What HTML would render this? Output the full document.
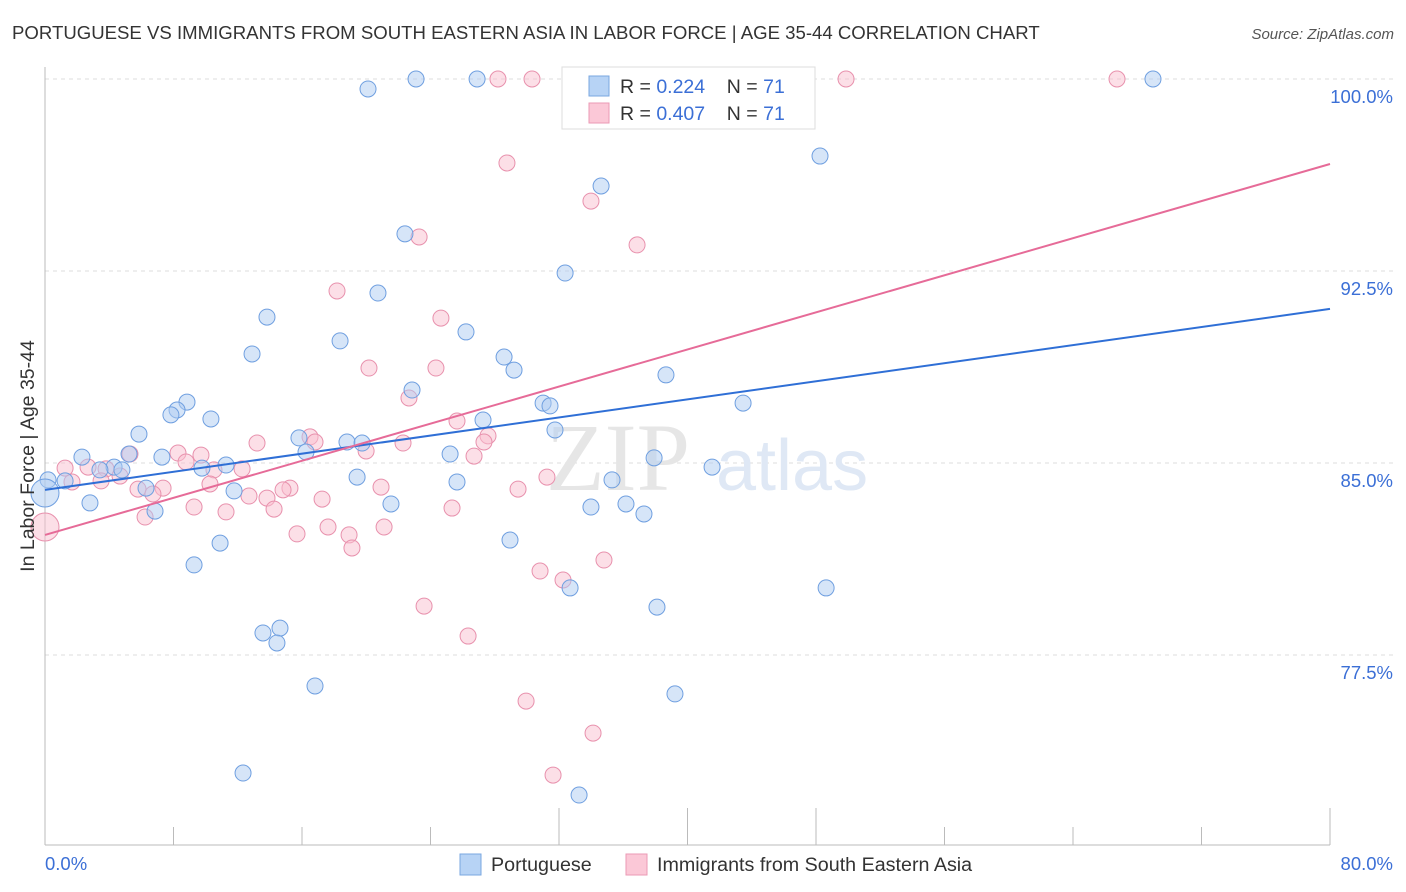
<!DOCTYPE html>
<html><head><meta charset="utf-8"><style>
body{margin:0;background:#fff;font-family:"Liberation Sans",sans-serif}
svg{display:block}
</style></head><body>
<svg id="chart" width="1406" height="892" viewBox="0 0 1406 892" xmlns="http://www.w3.org/2000/svg">
<text x="12" y="39" font-size="18.6" fill="#333">PORTUGUESE VS IMMIGRANTS FROM SOUTH EASTERN ASIA IN LABOR FORCE | AGE 35-44 CORRELATION CHART</text>
<text x="1394" y="39" font-size="15" fill="#555" text-anchor="end" font-style="italic">Source: ZipAtlas.com</text>
<g id="grid"></g>
<text x="690" y="490" font-size="96" fill="#e6e6e6" text-anchor="end" font-family="Liberation Serif">ZIP</text>
<text x="716" y="490" font-size="72" fill="#dfe8f5">atlas</text>
<g id="axes"></g>
<g id="pink"></g>
<g id="blue"></g>
<g id="lines"></g>
<text transform="translate(34,456) rotate(-90)" font-size="19.5" fill="#333" text-anchor="middle">In Labor Force | Age 35-44</text>
<g>
<rect x="562" y="67" width="253" height="62" fill="#fff" stroke="#ddd"/>
<rect x="589" y="76" width="20" height="20" fill="#b7d3f5" stroke="#7aa7e0"/>
<rect x="589" y="103" width="20" height="20" fill="#fbc8d7" stroke="#eb9ab4"/>
<text x="620" y="93" font-size="19.5" fill="#333" xml:space="preserve">R = <tspan fill="#3b6fd6">0.224</tspan>    N = <tspan fill="#3b6fd6">71</tspan></text>
<text x="620" y="120" font-size="19.5" fill="#333" xml:space="preserve">R = <tspan fill="#3b6fd6">0.407</tspan>    N = <tspan fill="#3b6fd6">71</tspan></text>
</g>
<g>
<rect x="460" y="854" width="21" height="21" fill="#b7d3f5" stroke="#7aa7e0"/>
<text x="491" y="871" font-size="19.7" fill="#333">Portuguese</text>
<rect x="626" y="854" width="21" height="21" fill="#fbc8d7" stroke="#eb9ab4"/>
<text x="657" y="871" font-size="19.7" fill="#333">Immigrants from South Eastern Asia</text>
</g>
</svg>
<script>
const yTicks=[100,92.5,85,77.5];
const yTickLabels=["100.0%","92.5%","85.0%","77.5%"];
const xTickLabels=["0.0%","80.0%"];
const blueX=[20.11,23.10,26.90,68.98,48.25,34.62,22.41,32.38,20.73,13.82,26.21,18.37,12.89,28.58,29.20,38.66,22.85,8.84,8.22,7.84,10.33,31.01,31.44,43.46,5.85,27.27,31.75,15.81,18.80,19.74,16.25,25.22,37.92,2.30,7.28,5.23,11.27,9.77,4.30,3.42,4.79,41.53,19.43,25.65,35.30,0.19,1.25,6.29,11.77,2.80,21.54,33.99,36.17,37.29,6.85,28.95,10.90,9.28,32.69,48.63,38.10,13.57,14.63,14.44,16.81,39.22,12.33,33.25,0];
const blueY=[99.61,100,100,100,96.99,95.82,93.95,92.42,91.64,90.70,90.12,89.77,89.26,89.14,88.63,88.44,87.85,87.38,87.07,86.88,86.72,87.34,87.23,87.34,86.13,86.68,86.29,85.98,85.82,85.78,85.43,85.35,85.20,85.23,85.23,85.35,84.92,84.80,84.84,84.73,84.73,84.84,84.45,84.26,84.34,84.34,84.30,84.02,83.91,83.44,83.40,83.28,83.40,83.01,83.12,81.99,81.87,81.02,80.12,80.12,79.37,78.36,78.55,77.97,76.29,75.98,72.89,72.03,83.83];
const pinkX=[28.20,30.32,43.02,49.87,66.74,28.76,33.99,23.29,36.86,18.18,24.65,20.17,24.34,22.66,25.65,27.58,16.50,16.81,27.33,19.99,22.29,13.20,8.28,9.71,5.29,8.78,26.71,1.25,2.68,3.80,10.52,12.27,4.67,3.49,1.68,10.27,31.25,20.92,5.79,7.35,6.72,15.25,14.82,17.25,12.70,13.82,14.26,9.28,11.27,25.34,29.45,6.23,17.62,21.11,15.69,18.93,19.11,30.82,32.25,34.80,23.60,26.34,29.95,34.12,31.63,0];
const pinkY=[100,100,100,100,100,96.72,95.23,93.83,93.52,91.72,90.66,88.71,88.71,87.54,86.64,86.06,86.02,85.82,85.82,85.47,85.78,85.78,85.39,85.31,85.35,85.04,85.27,84.80,84.84,84.77,84.73,84.77,84.49,84.30,84.26,84.18,84.45,84.06,83.98,84.02,83.79,84.02,83.95,83.59,83.71,83.63,83.20,83.28,83.09,83.24,83.98,82.89,82.50,82.50,82.23,82.19,81.68,80.78,80.43,81.21,79.41,78.24,75.70,74.45,72.81,82.50];
const blueTrend=[83.95,91.02];
const pinkTrend=[82.19,96.68];
const trendX=[0,80];
const NS="http://www.w3.org/2000/svg";
const X=v=>45+v/80*1285;
const Y=v=>79+(100-v)/7.5*192;
function mk(tag,attrs,parent){const e=document.createElementNS(NS,tag);for(const k in attrs)e.setAttribute(k,attrs[k]);parent.appendChild(e);return e;}
const grid=document.getElementById('grid'),axes=document.getElementById('axes');
yTicks.forEach((t,i)=>{
 const l=mk('line',{x1:45,x2:1393,y1:Y(t),y2:Y(t),stroke:'#ddd','stroke-dasharray':'4,4'},grid);
 
 
 const tx=mk('text',{x:1393,y:Y(t)+24,'font-size':18.5,fill:'#3b6fd6','text-anchor':'end'},axes);
 tx.textContent=yTickLabels[i];
 
 
});
mk('line',{x1:45,x2:45,y1:67,y2:845,stroke:'#bbb'},axes);
mk('line',{x1:45,x2:1330,y1:845,y2:845,stroke:'#bbb'},axes);
for(let i=1;i<=10;i++){
 const long=(i>=4&&i<=6)||i==10;
 const t=mk('line',{x1:X(i*8),x2:X(i*8),y1:long?808:827,y2:845,stroke:'#bbb'},axes);
 
 
}
const xl0=mk('text',{x:45,y:870,'font-size':18.5,fill:'#3b6fd6'},axes);xl0.textContent=xTickLabels[0];


const xl1=mk('text',{x:1393,y:870,'font-size':18.5,fill:'#3b6fd6','text-anchor':'end'},axes);xl1.textContent=xTickLabels[1];


function pts(xs,ys,g,fill,stroke,name){
 xs.forEach((x,i)=>{
  const big=(x===0);
  const c=mk('circle',{cx:X(x),cy:Y(ys[i]),r:big?14:8,fill:fill,'fill-opacity':0.5,stroke:stroke,'stroke-width':1},g);
  
  
 });
}
pts(pinkX,pinkY,document.getElementById('pink'),'#f9bfd0','#e891ad','immigrants-point');
pts(blueX,blueY,document.getElementById('blue'),'#aecbf2','#6f9fe0','portuguese-point');
const lines=document.getElementById('lines');
const bl=mk('line',{x1:X(trendX[0]),y1:Y(blueTrend[0]),x2:X(trendX[1]),y2:Y(blueTrend[1]),stroke:'#2f6fd6','stroke-width':2},lines);


const pl=mk('line',{x1:X(trendX[0]),y1:Y(pinkTrend[0]),x2:X(trendX[1]),y2:Y(pinkTrend[1]),stroke:'#e66b98','stroke-width':2},lines);


</script>
</body></html>
